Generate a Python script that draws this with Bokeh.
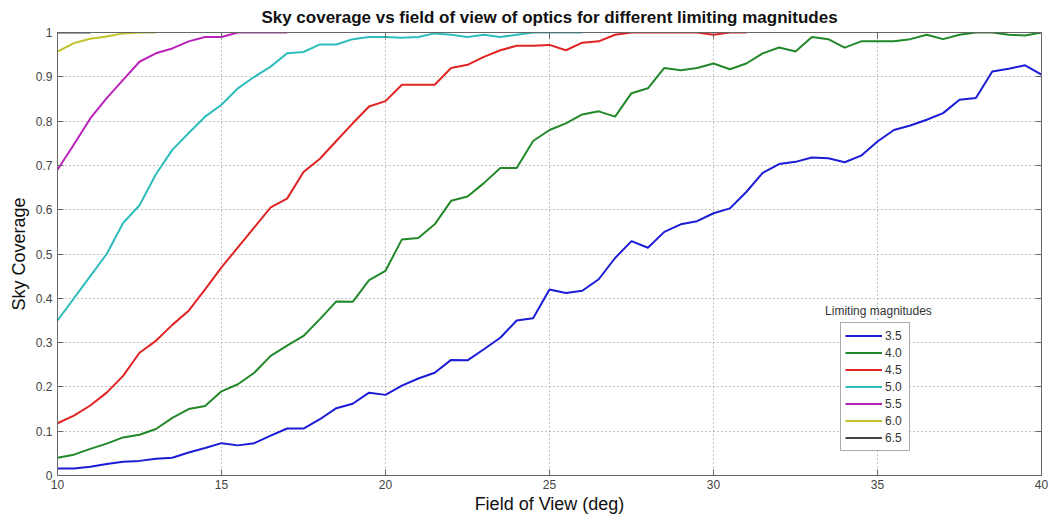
from bokeh.plotting import figure
from bokeh.models import Range1d, FixedTicker, Label, Legend, LegendItem, LinearAxis
from bokeh.embed import file_html
from bokeh.resources import INLINE

fov_full = [10, 10.5, 11, 11.5, 12, 12.5, 13, 13.5, 14, 14.5,
            15, 15.5, 16, 16.5, 17, 17.5, 18, 18.5, 19, 19.5,
            20, 20.5, 21, 21.5, 22, 22.5, 23, 23.5, 24, 24.5,
            25, 25.5, 26, 26.5, 27, 27.5, 28, 28.5, 29, 29.5,
            30, 30.5, 31, 31.5, 32, 32.5, 33, 33.5, 34, 34.5,
            35, 35.5, 36, 36.5, 37, 37.5, 38, 38.5, 39, 39.5, 40]

mag_35 = [0.016, 0.016, 0.02, 0.026, 0.031, 0.033, 0.038, 0.04, 0.052, 0.062,
          0.073, 0.068, 0.073, 0.09, 0.106, 0.106, 0.127, 0.152, 0.162, 0.187,
          0.182, 0.203, 0.219, 0.232, 0.261, 0.26, 0.285, 0.311, 0.35, 0.355,
          0.42, 0.412, 0.417, 0.443, 0.491, 0.529, 0.514, 0.55, 0.567, 0.574,
          0.592, 0.603, 0.64, 0.683, 0.703, 0.708, 0.718, 0.716, 0.707, 0.722,
          0.754, 0.78, 0.79, 0.803, 0.818, 0.848, 0.852, 0.912, 0.918, 0.926, 0.905]

mag_40 = [0.04, 0.047, 0.06, 0.072, 0.086, 0.092, 0.105, 0.13, 0.15, 0.157,
          0.19, 0.206, 0.232, 0.27, 0.293, 0.315, 0.353, 0.393, 0.392, 0.441,
          0.462, 0.533, 0.536, 0.567, 0.62, 0.63, 0.66, 0.694, 0.694, 0.755,
          0.78, 0.795, 0.815, 0.822, 0.81, 0.863, 0.874, 0.92, 0.915, 0.92,
          0.93, 0.917, 0.93, 0.953, 0.966, 0.957, 0.99, 0.985, 0.966, 0.98,
          0.98, 0.98, 0.985, 0.995, 0.985, 0.995, 1.0, 1.0, 0.995, 0.993, 1.0]

mag_45 = [0.118, 0.135, 0.158, 0.187, 0.225, 0.277, 0.304, 0.34, 0.372, 0.42,
          0.47, 0.515, 0.56, 0.605, 0.625, 0.685, 0.715, 0.755, 0.795, 0.833,
          0.845, 0.882, 0.882, 0.882, 0.92, 0.927, 0.945, 0.96, 0.97, 0.97,
          0.972, 0.96, 0.977, 0.98, 0.995, 1.0, 1.0, 1.0, 1.0, 1.0,
          0.995, 1.0, 1.0]

mag_50 = [0.35, 0.4, 0.45, 0.5, 0.57, 0.61, 0.68, 0.735, 0.773, 0.81,
          0.837, 0.874, 0.9, 0.923, 0.953, 0.956, 0.973, 0.973, 0.985, 0.99,
          0.99, 0.988, 0.99, 0.998, 0.995, 0.99, 0.995, 0.99, 0.995, 1.0,
          1.0, 1.0, 1.0]

mag_55 = [0.69, 0.747, 0.806, 0.852, 0.893, 0.934, 0.953, 0.964, 0.98, 0.99,
          0.99, 1.0, 1.0, 1.0, 1.0]

mag_60 = [0.957, 0.976, 0.986, 0.991, 0.998, 1.0, 1.0]

mag_65 = [1.0, 1.0, 1.0]

labels = ["3.5", "4.0", "4.5", "5.0", "5.5", "6.0", "6.5"]
series = [mag_35, mag_40, mag_45, mag_50, mag_55, mag_60, mag_65]
colors = ["#1c1cd6", "#22882a", "#e02424", "#2fbcbc", "#bb22bb", "#c2c228", "#444444"]

x_ticks = [10, 15, 20, 25, 30, 35, 40]
y_ticks = [0, 0.1, 0.2, 0.3, 0.4, 0.5, 0.6, 0.7, 0.8, 0.9, 1]
y_tick_labels = ["0", "0.1", "0.2", "0.3", "0.4", "0.5", "0.6", "0.7", "0.8", "0.9", "1"]

FONT = "Liberation Sans"

p = figure(width=1048, height=516, output_backend="svg", toolbar_location=None,
           x_range=Range1d(10, 40), y_range=Range1d(0, 1),
           min_border_left=57, min_border_right=7, min_border_top=31, min_border_bottom=41,
           title="Sky coverage vs field of view of optics for different limiting magnitudes")
p.title.align = "center"
p.title.text_font = FONT
p.title.text_font_size = "17px"
p.title.text_font_style = "bold"
p.title.text_color = "#111111"
p.title.standoff = 11

p.background_fill_color = "white"
p.border_fill_color = "white"
p.outline_line_color = "#666666"
p.outline_line_width = 1

for ax in [p.xaxis[0], p.yaxis[0]]:
    ax.major_tick_in = 6
    ax.major_tick_out = 0
    ax.minor_tick_line_color = None
    ax.axis_line_color = "#666666"
    ax.major_tick_line_color = "#666666"
    ax.major_label_text_font = FONT
    ax.major_label_text_font_size = "12px"
    ax.major_label_text_color = "#444444"
    ax.axis_label_text_font = FONT
    ax.axis_label_text_font_size = "18px"
    ax.axis_label_text_font_style = "normal"
    ax.axis_label_text_color = "#111111"

p.xaxis.ticker = FixedTicker(ticks=x_ticks)
p.yaxis.ticker = FixedTicker(ticks=y_ticks)
p.yaxis.major_label_overrides = {t: l for t, l in zip(y_ticks, y_tick_labels)}
p.xaxis.axis_label = "Field of View (deg)"
p.yaxis.axis_label = "Sky Coverage"
p.xaxis.major_label_standoff = 4
p.xaxis.axis_label_standoff = 2
p.yaxis.major_label_standoff = 5
p.yaxis.axis_label_standoff = 4

# right and top axis ticks (no labels), as in a boxed plot
rax = LinearAxis(ticker=FixedTicker(ticks=y_ticks), major_tick_in=6, major_tick_out=0,
                 minor_tick_line_color=None, axis_line_color="#666666",
                 major_tick_line_color="#666666", major_label_text_color=None,
                 major_label_standoff=0)
p.add_layout(rax, "right")
tax = LinearAxis(ticker=FixedTicker(ticks=x_ticks), major_tick_in=6, major_tick_out=0,
                 minor_tick_line_color=None, axis_line_color="#666666",
                 major_tick_line_color="#666666", major_label_text_color=None,
                 major_label_standoff=0)
p.add_layout(tax, "above")

p.xgrid.grid_line_color = "#888888"
p.ygrid.grid_line_color = "#888888"
p.xgrid.grid_line_dash = "1 3"
p.ygrid.grid_line_dash = "1 3"
p.xgrid.grid_line_width = 1
p.ygrid.grid_line_width = 1

items = []
for lab, ys, col in zip(labels, series, colors):
    r = p.line(fov_full[:len(ys)], ys, line_color=col, line_width=2)
    items.append(LegendItem(label=lab, renderers=[r]))

legend = Legend(items=items, location=(783, 24))
legend.label_text_font = FONT
legend.label_text_font_size = "12px"
legend.label_text_color = "#333333"
legend.glyph_width = 37
legend.glyph_height = 17
legend.label_height = 17
legend.label_standoff = 3
legend.spacing = 0
legend.padding = 4
legend.margin = 0
legend.border_line_color = "#555555"
legend.border_line_width = 1
legend.background_fill_alpha = 1.0
p.add_layout(legend, "center")

p.add_layout(Label(x=35.03, y=0.372, text="Limiting magnitudes", text_align="center",
                   text_baseline="middle", text_font=FONT, text_font_size="12px",
                   text_color="#333333"))

open("out.html", "w").write(file_html(p, INLINE))
